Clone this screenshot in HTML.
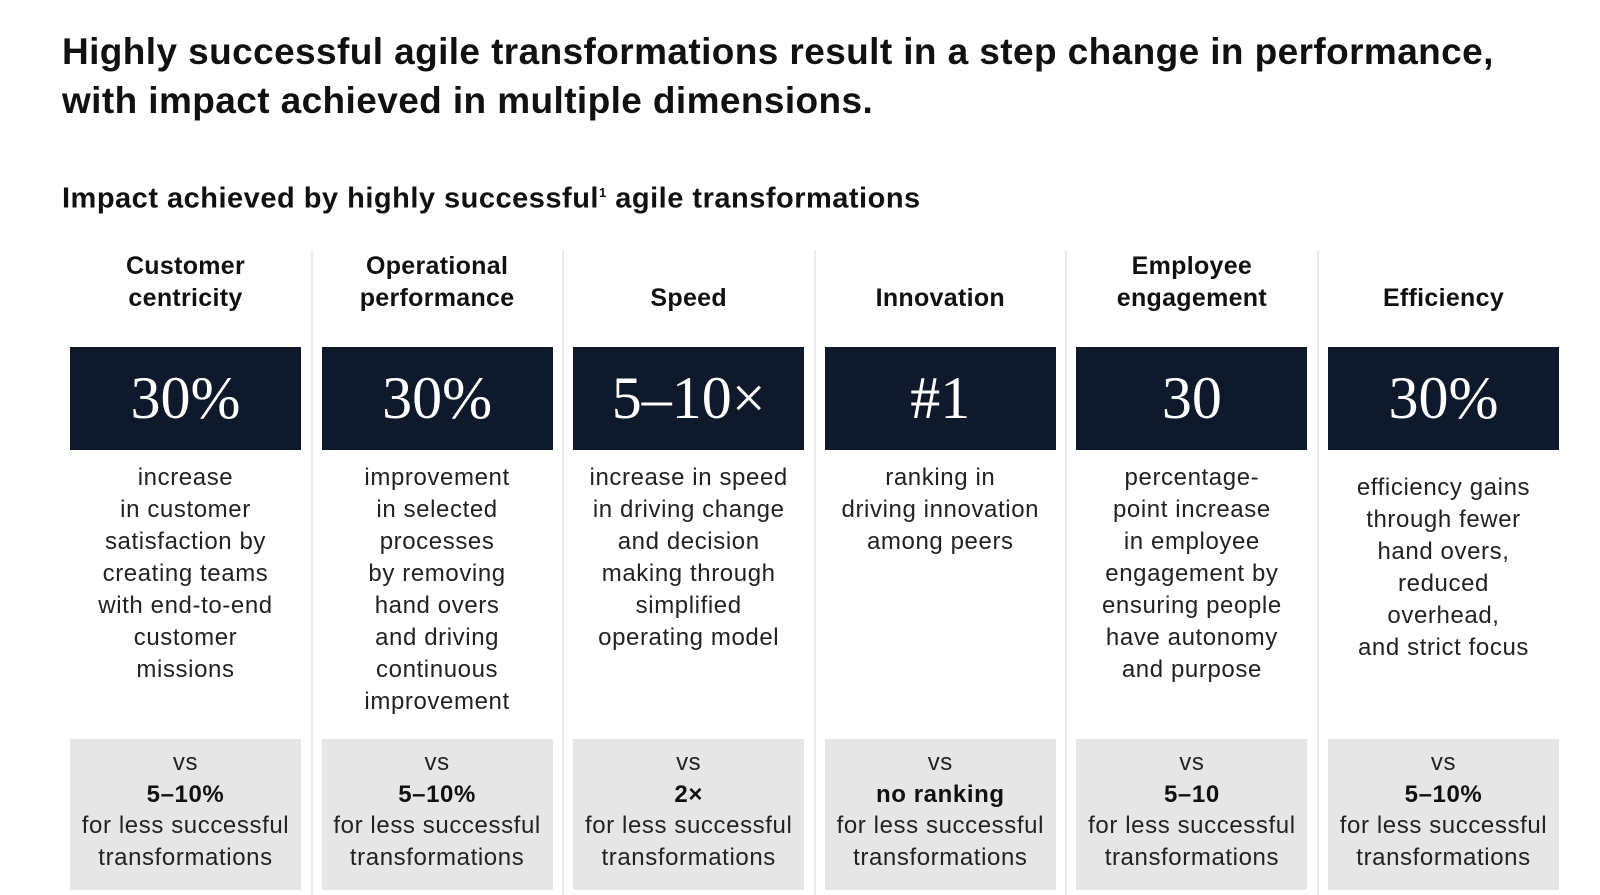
<!DOCTYPE html>
<html><head><meta charset="utf-8"><style>
body{margin:0;width:1600px;height:895px;background:#fff;font-family:"Liberation Sans",sans-serif;color:#111;position:relative;overflow:hidden}
.t{position:absolute;left:62px;top:27px;font-size:37px;font-weight:bold;line-height:49px;letter-spacing:0.4px;white-space:nowrap}
.st{position:absolute;left:62px;top:175px;font-size:29px;font-weight:bold;line-height:36px;letter-spacing:0.5px;white-space:nowrap}
.div{position:absolute;top:250px;width:2px;height:645px;background:#ececec}
.h{position:absolute;top:248px;width:231px;height:66px;font-size:25px;font-weight:bold;line-height:32px;display:flex;align-items:flex-end;justify-content:center;text-align:center;letter-spacing:0.3px}
.num{position:absolute;top:347px;width:231px;height:103px;background:#0e1a2b;color:#fff;font-family:"Liberation Serif",serif;font-size:60px;line-height:103px;text-align:center}
.d{position:absolute;top:462px;width:231px;font-size:24px;line-height:32px;color:#222;text-align:center;letter-spacing:0.6px}
.g{position:absolute;top:739px;width:231px;height:151px;background:#e6e6e6;font-size:24px;line-height:31.5px;padding-top:8px;box-sizing:border-box;text-align:center;color:#222;letter-spacing:0.6px}
.g b{display:block;color:#111}
</style></head><body>
<div class="t">Highly successful agile transformations result in a step change in performance,<br>with impact achieved in multiple dimensions.</div>
<div class="st">Impact achieved by highly successful<sup style="font-size:13px">1</sup> agile transformations</div>
<div id="root"></div>
<script>
const headers=["Customer<br>centricity","Operational<br>performance","Speed","Innovation","Employee<br>engagement","Efficiency"];
const values=["30%","30%","5–10×","#1","30","30%"];
const descs=["increase<br>in customer<br>satisfaction by<br>creating teams<br>with end-to-end<br>customer<br>missions","improvement<br>in selected<br>processes<br>by removing<br>hand overs<br>and driving<br>continuous<br>improvement","increase in speed<br>in driving change<br>and decision<br>making through<br>simplified<br>operating model","ranking in<br>driving innovation<br>among peers","percentage-<br>point increase<br>in employee<br>engagement by<br>ensuring people<br>have autonomy<br>and purpose","efficiency gains<br>through fewer<br>hand overs,<br>reduced<br>overhead,<br>and strict focus"];
const compares=["5–10%","5–10%","2×","no ranking","5–10","5–10%"];
const root=document.getElementById('root');
headers.forEach((h,i)=>{
 const x=70+i*251.6;
 const mk=(cls,html,name,top)=>{const e=document.createElement('div');e.className=cls;e.style.left=x+'px';if(top)e.style.top=top+'px';e.innerHTML=html;
 
 
 root.appendChild(e);};
 mk('h',h,'column-header');
 mk('num',values[i],'metric-value');
 mk('d',descs[i],'metric-description',i==5?472:0);
 mk('g','vs<b>'+compares[i]+'</b>for less successful<br>transformations','comparison-box');
 if(i>0){const dv=document.createElement('div');dv.className='div';dv.style.left=(x-11)+'px';
 
 
 root.appendChild(dv);}
});
</script>
</body></html>
